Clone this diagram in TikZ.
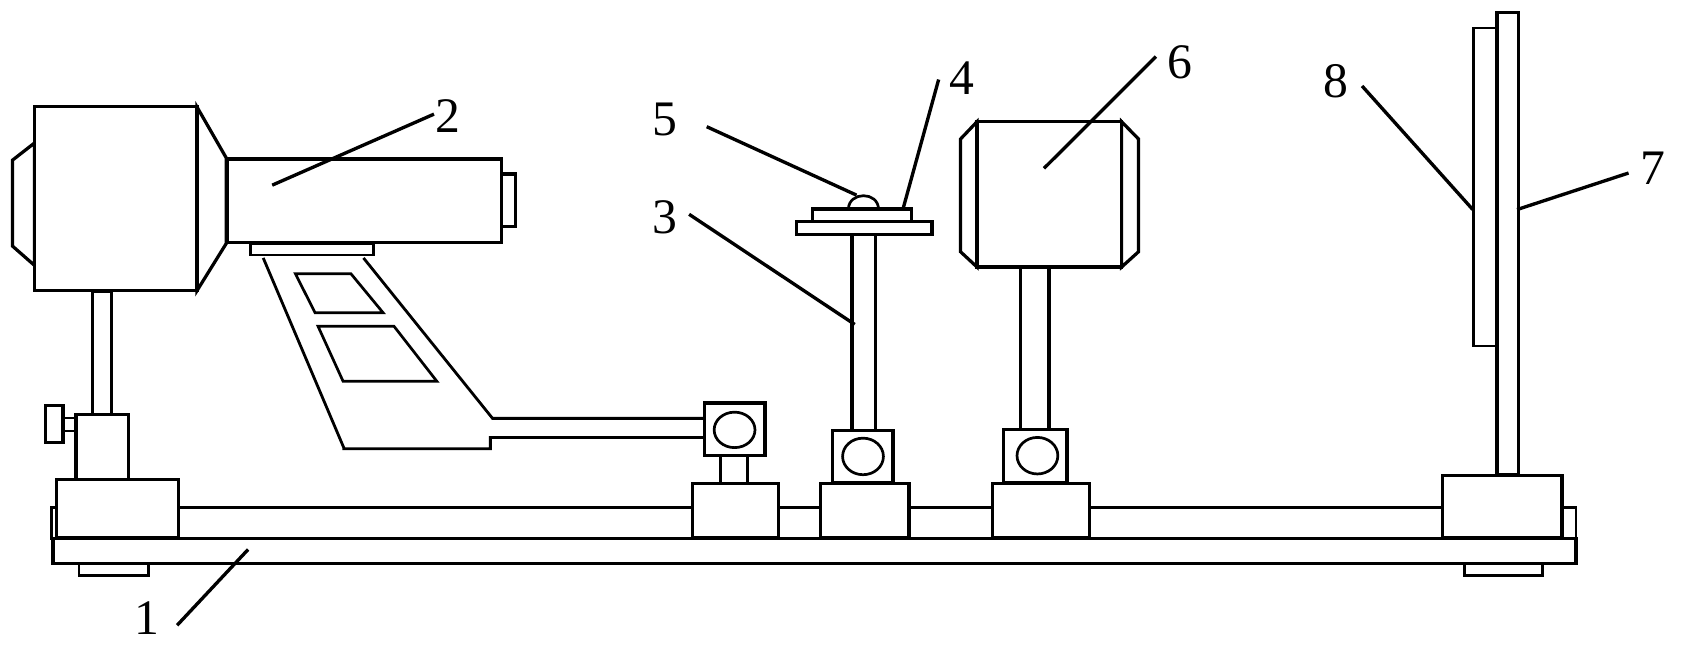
\documentclass[tikz,border=0pt]{standalone}
\usepackage{fontspec}
\setmainfont{Liberation Serif}
\tikzset{
  part/.style={draw=black,line width=3pt,fill=white,line join=miter},
  thin part/.style={part,line width=2.5pt},
  rawline/.style={draw=black,line width=2.6pt},
  leader/.style={draw=black,line width=3.1pt},
  num/.style={inner sep=0pt,font=\fontsize{46}{50}\selectfont,text=black}
}
\begin{document}
\begin{tikzpicture}[x=1pt,y=-1pt]
\useasboundingbox[fill=white] (0,0) rectangle (1560,601.8);
\begin{scope}[yscale=.995]
% rail and base
\path[thin part] (48,472) rectangle (1459,501);
\path[part] (49,501) rectangle (1459,524);
\path[thin part] (73,524) rectangle (137.6,535.5);
\path[thin part] (1356,524) rectangle (1428,535.5);
% camera
\path[part] (85.5,271) rectangle (103.4,386);
\path[part] (32,133)--(11.6,149)--(11.6,229)--(32,247)--cycle;
\path[part] (182.3,99.4)--(209.5,147)--(209.5,226.5)--(182.3,270.6)--cycle;
\path[part] (32,99.4) rectangle (182.3,270.6);
\path[thin part] (232,226.5) rectangle (345.8,237.4);
\path[part] (464,162) rectangle (477.4,211);
\path[part] (210.5,148) rectangle (464,225.5);
% support arm
\draw[rawline] (243.7,240)--(318.2,416.4)--(318.2,417.5)--(454,417.5)--(454,407)--(654,407);
\draw[rawline] (336.5,240)--(456,389.3)--(654,389.3);
\draw[thin part] (273.5,254.7)--(324.9,254.7)--(354.7,291)--(291.7,291)--cycle;
\draw[thin part] (294.4,303.5)--(364.7,303.5)--(404.4,354.7)--(317.6,354.7)--cycle;
% clamp on the left
\path[thin part] (58.3,389) rectangle (70.3,401);
\path[part] (42.1,377.4) rectangle (58.3,412);
\path[part] (70.3,386) rectangle (118.7,446);
\path[part] (52,446.2) rectangle (165,500.7);
\begin{scope}[xscale=.995]
% arm carrier
\path[part] (670.7,424) rectangle (695.6,450);
\path[part] (655.8,375) rectangle (711.7,424);
\path[thin part] (683.5,400) ellipse [x radius=19,y radius=16.5];
\path[part] (644,449.7) rectangle (724.1,500.7);
% stage
\path[part] (792.8,218) rectangle (814.8,400.5);
\path[thin part] (789.4,194.4) .. controls (790,178) and (817,178) .. (817.4,194.4);
\path[part] (756.1,194.4) rectangle (847.9,205.8);
\path[part] (741.2,205.8) rectangle (867.1,218);
\path[part] (774.6,400.5) rectangle (830.8,449);
\path[thin part] (803,424.7) ellipse [x radius=19,y radius=17];
\path[part] (763.2,449.7) rectangle (845.8,500.7);
% unit 6
\path[part] (949.3,249) rectangle (976,400);
\path[part] (909.1,113.2)--(893.8,129.3)--(893.8,234.3)--(909.1,248.5)--cycle;
\path[part] (1043.6,113.2)--(1059.3,129.3)--(1059.3,234.3)--(1043.6,248.5)--cycle;
\path[part] (909.1,113.2) rectangle (1043.6,248.5);
\path[part] (934,399.8) rectangle (992.7,449);
\path[thin part] (965.3,424) ellipse [x radius=19,y radius=17];
\path[part] (923.4,449.7) rectangle (1014,500.7);
% screen
\path[thin part] (1371,26) rectangle (1393,322);
\path[part] (1393,11.6) rectangle (1412.6,442);
\path[part] (1341.9,442.5) rectangle (1453.4,500.7);
\end{scope}
% labels
\node[num] (n1) at (136,574.7) {1};
\node[num] (n2) at (414.4,108) {2};
\node[num] (n3) at (615.6,202) {3};
\node[num] (n4) at (890.5,73) {4};
\node[num] (n5) at (615.6,111.5) {5};
\node[num] (n6) at (1092,57.9) {6};
\node[num] (n7) at (1530.7,156.3) {7};
\node[num] (n8) at (1237,75.3) {8};
% leader ends
\coordinate (a1) at (164,581.8);   \coordinate (b1) at (229.7,511.3);
\coordinate (a2) at (401.8,106.2); \coordinate (b2) at (252,172.3);
\coordinate (a3) at (638,199.4);   \coordinate (b3) at (791.3,301.9);
\coordinate (a4) at (869,74);      \coordinate (b4) at (836.3,193.4);
\coordinate (a5) at (654.3,117.9); \coordinate (b5) at (793,181.6);
\coordinate (a6) at (1070.2,52.7); \coordinate (b6) at (966.5,156.7);
\coordinate (a7) at (1507.7,161);  \coordinate (b7) at (1404.5,195);
\coordinate (a8) at (1261,80);     \coordinate (b8) at (1363.5,195);
\foreach \i in {1,...,8} {\draw[leader] (a\i) -- (b\i);}
\end{scope}
\end{tikzpicture}
\end{document}
